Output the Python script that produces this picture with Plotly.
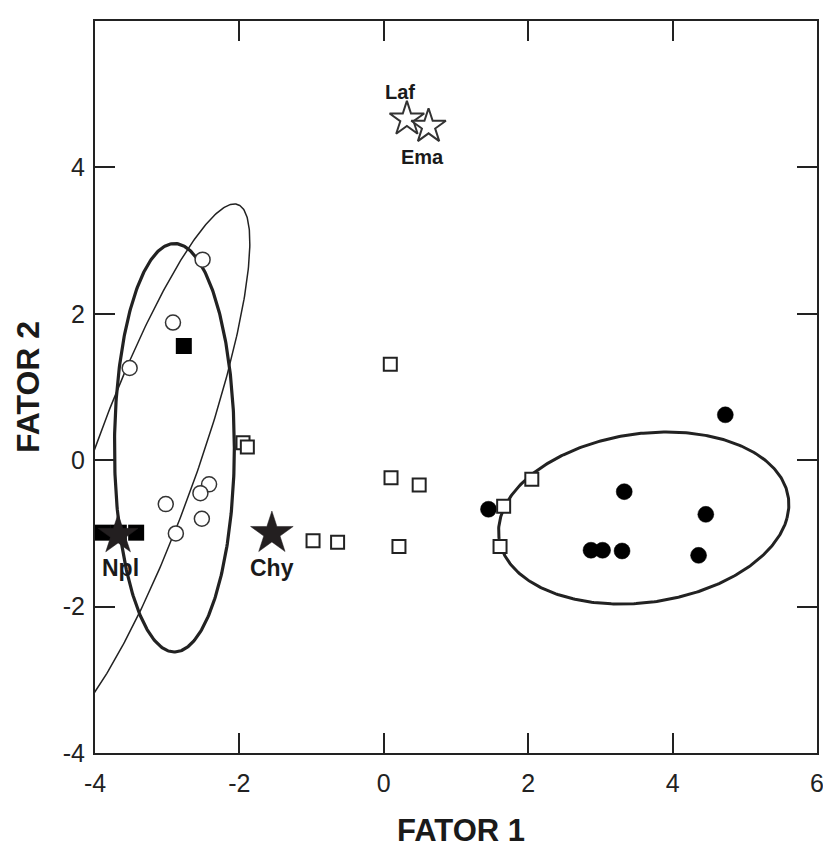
import numpy as np
import plotly.graph_objects as go

# ---- data ----
open_circle_x = [-2.51, -2.92, -3.52, -3.02, -2.42, -2.54, -2.52, -2.88]
open_circle_y = [2.74, 1.88, 1.26, -0.60, -0.33, -0.45, -0.80, -1.00]

open_square_x = [-1.95, -1.89, -0.98, -0.64, 0.09, 0.10, 0.49, 0.21, 1.66, 2.05, 1.61]
open_square_y = [0.24, 0.18, -1.10, -1.12, 1.31, -0.24, -0.34, -1.18, -0.63, -0.26, -1.18]

filled_circle_x = [1.45, 4.73, 3.33, 4.46, 2.87, 3.03, 3.30, 4.36]
filled_circle_y = [-0.67, 0.62, -0.43, -0.74, -1.23, -1.23, -1.24, -1.30]

filled_square_x = [-2.77, -3.89, -3.67, -3.43]
filled_square_y = [1.56, -0.99, -0.99, -0.99]

dark_star_names = ["Npl", "Chy"]
dark_star_x = [-3.68, -1.55]
dark_star_y = [-1.02, -1.00]

open_star_names = ["Laf", "Ema"]
open_star_x = [0.32, 0.62]
open_star_y = [4.66, 4.56]

# label positions for the named stars
dark_label_x = [-3.64, -1.55]
dark_label_y = [-1.47, -1.47]
open_label_x = [0.22, 0.54]
open_label_y = [5.03, 4.14]

# ellipses: centre x, centre y, horizontal half-width, vertical half-height, shear
ellipse_cx = [-2.90, -3.33, 3.60]
ellipse_cy = [0.17, -0.10, -0.79]
ellipse_w = [0.83, 0.766, 1.985]
ellipse_h = [2.79, 3.60, 1.175]
ellipse_k = [0.0, 0.35, 0.27]
ellipse_lw = [3.2, 1.5, 3.0]

x_ticks = [-4, -2, 0, 2, 4, 6]
y_ticks = [-4, -2, 0, 2, 4, 6]

INK = "#1a1a1a"
fig = go.Figure()

t = np.linspace(0, 2 * np.pi, 400)
for cx, cy, w, h, k, lw in zip(ellipse_cx, ellipse_cy, ellipse_w, ellipse_h, ellipse_k, ellipse_lw):
    ex = cx + w * np.cos(t) + k * h * np.sin(t)
    ey = cy + h * np.sin(t)
    fig.add_trace(go.Scatter(x=ex, y=ey, mode="lines",
                             line=dict(color="#222222", width=lw),
                             hoverinfo="skip", showlegend=False))

fig.add_trace(go.Scatter(x=open_circle_x, y=open_circle_y, mode="markers",
                         marker=dict(symbol="circle", size=15, color="white", opacity=1,
                                     line=dict(color="#333333", width=1.5)),
                         showlegend=False))
fig.add_trace(go.Scatter(x=filled_circle_x, y=filled_circle_y, mode="markers",
                         marker=dict(symbol="circle", size=16, color="black", opacity=1,
                                     line=dict(color="black", width=0.5)),
                         showlegend=False))
fig.add_trace(go.Scatter(x=open_square_x, y=open_square_y, mode="markers",
                         marker=dict(symbol="square", size=13, color="white", opacity=1,
                                     line=dict(color="#222222", width=2)),
                         showlegend=False))
fig.add_trace(go.Scatter(x=filled_square_x, y=filled_square_y, mode="markers",
                         marker=dict(symbol="square", size=16, color="black", opacity=1,
                                     line=dict(color="black", width=0)),
                         showlegend=False))
fig.add_trace(go.Scatter(x=dark_star_x, y=dark_star_y, mode="markers",
                         marker=dict(symbol="star", size=[30, 32], color="#231f20", opacity=1,
                                     line=dict(color="#231f20", width=0.5)),
                         showlegend=False))
fig.add_trace(go.Scatter(x=open_star_x, y=open_star_y, mode="markers",
                         marker=dict(symbol="star", size=26, color="white", opacity=1,
                                     line=dict(color="#333333", width=2)),
                         showlegend=False))

for name, lx, ly in zip(dark_star_names, dark_label_x, dark_label_y):
    fig.add_annotation(x=lx, y=ly, text="<b>%s</b>" % name, showarrow=False,
                       font=dict(family="Liberation Sans, Arial", size=23, color=INK))
for name, lx, ly in zip(open_star_names, open_label_x, open_label_y):
    fig.add_annotation(x=lx, y=ly, text="<b>%s</b>" % name, showarrow=False,
                       font=dict(family="Liberation Sans, Arial", size=20, color=INK))

fig.add_annotation(xref="paper", yref="paper", x=0.5, y=0, yanchor="middle",
                   yshift=-77, xshift=5, text="<b>FATOR 1</b>", showarrow=False,
                   font=dict(family="Liberation Sans, Arial", size=31, color=INK))
fig.add_annotation(xref="paper", yref="paper", x=0, y=0.5, xanchor="center",
                   xshift=-67, textangle=-90, text="<b>FATOR 2</b>", showarrow=False,
                   font=dict(family="Liberation Sans, Arial", size=32, color=INK))

axis_common = dict(showgrid=False, zeroline=False, showline=True, linecolor="#222222",
                   linewidth=2, mirror="allticks", ticks="inside", ticklen=20,
                   tickwidth=2, tickcolor="#222222",
                   tickfont=dict(family="Liberation Sans, Arial", size=25, color="#222222"))

fig.update_xaxes(range=[-4, 6], tickvals=x_ticks, ticktext=[str(v) for v in x_ticks],
                 ticklabelstandoff=7, **axis_common)
fig.update_yaxes(range=[-4, 6], tickvals=y_ticks, ticktext=[str(v) for v in y_ticks],
                 ticklabelstandoff=3, **axis_common)

fig.update_layout(width=823, height=840, margin=dict(l=87, r=7, t=13, b=95),
                  plot_bgcolor="white", paper_bgcolor="white")

fig.write_html("out.html")
